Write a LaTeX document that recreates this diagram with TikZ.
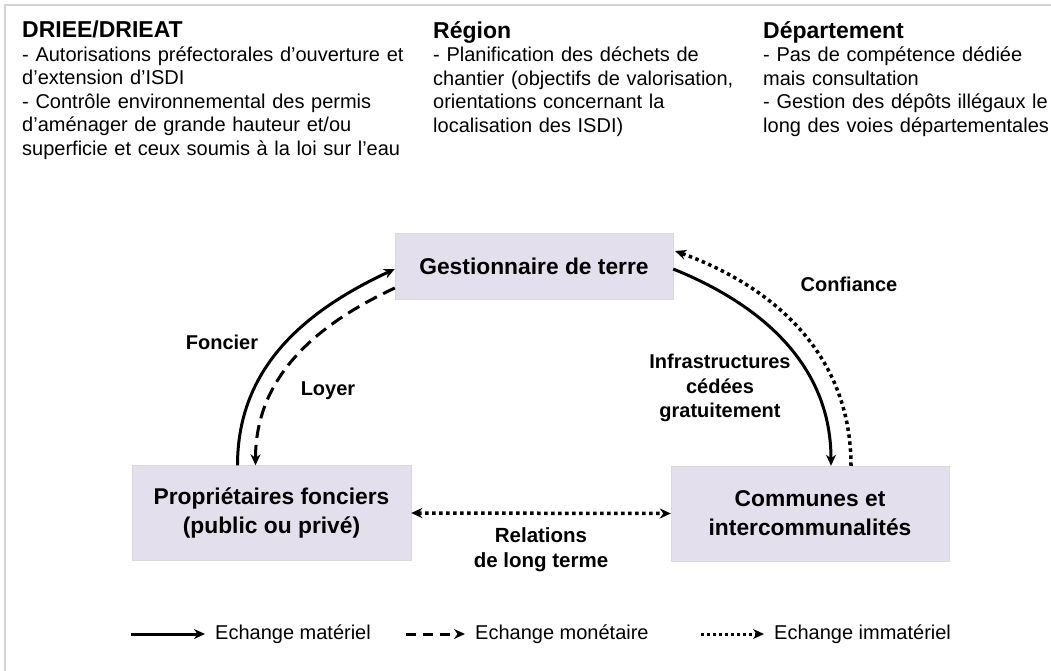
\documentclass[tikz,border=0pt]{standalone}
\usepackage{fontspec}
\setmainfont{Liberation Sans}
\usetikzlibrary{arrows.meta}
\definecolor{boxfill}{HTML}{E4DFEC}
\definecolor{boxline}{HTML}{D9D9D9}
\definecolor{framegray}{HTML}{D3D3D3}
\newcommand{\coltitle}[1]{{\bfseries\fontsize{23}{23.5}\selectfont #1}}

\begin{document}
\begin{tikzpicture}[x=1pt,y=1pt,
      every node/.style={inner sep=0pt},
      actor/.style={draw=boxline,fill=boxfill,minimum width=279pt,align=center,
        font=\bfseries\fontsize{22.8}{29}\selectfont},
      column/.style={anchor=north west,align=left,text width=#1,
        font=\fontsize{20}{23.5}\selectfont},
      flowlabel/.style={align=center,font=\bfseries\fontsize{20}{24.5}\selectfont},
      legtext/.style={anchor=west,font=\fontsize{20}{24}\selectfont},
      tip/.style={-{Stealth[length=11pt,width=10pt,inset=3.5pt]}},
      bothtips/.style={{Stealth[length=11pt,width=10pt,inset=3.5pt]}-{Stealth[length=11pt,width=10pt,inset=3.5pt]}},
      material/.style={tip,line width=3pt},
      money/.style={tip,line width=3pt,dash pattern=on 13pt off 7pt},
      immaterial/.style={tip,line width=3.5pt,dash pattern=on 3.5pt off 3.5pt}]
    \useasboundingbox (0,0) rectangle (1051,-671);
    \draw[framegray,line width=2pt] (5,-671) -- (5,-5) -- (1051,-5);

    \node[column=400pt] (driee) at (22,-21) {\coltitle{DRIEE/DRIEAT}\\
      - Autorisations préfectorales d’ouverture et\\
      d’extension d’ISDI\\
      - Contrôle environnemental des permis\\
      d’aménager de grande hauteur et/ou\\
      superficie et ceux soumis à la loi sur l’eau};
    \node[column=320pt] (region) at (433,-21) {\coltitle{Région}\\
      - Planification des déchets de\\
      chantier (objectifs de valorisation,\\
      orientations concernant la\\
      localisation des ISDI)};
    \node[column=300pt] (dept) at (763,-21) {\coltitle{Département}\\
      - Pas de compétence dédiée\\
      mais consultation\\
      - Gestion des dépôts illégaux le\\
      long des voies départementales};

    \node[actor,minimum width=278pt,minimum height=66pt] (gest) at (534,-266) {Gestionnaire de terre};
    \node[actor,minimum height=95pt] (prop) at (271.5,-513) {Propriétaires fonciers\\(public ou privé)};
    \node[actor,minimum width=278pt,minimum height=95pt] (comm) at (810,-513.5) {Communes et\\intercommunalités};

    \draw[material] ([xshift=-34pt]prop.north) to[out=90,in=205] ([yshift=-3pt]gest.west);
    \draw[money] ([yshift=-22pt]gest.west) to[out=205,in=90] ([xshift=-16pt]prop.north);
    \draw[material] ([yshift=-3pt]gest.east) to[out=-22,in=90] ([xshift=21pt]comm.north);
    \draw[immaterial] ([xshift=41pt]comm.north) to[out=90,in=-20] ([xshift=2pt,yshift=15pt]gest.east);
    \draw[immaterial,bothtips] (prop.east) -- (comm.west);

    \node[flowlabel] (foncier) at (222,-342) {Foncier};
    \node[flowlabel] (loyer) at (328,-391) {Loyer};
    \node[flowlabel] (confiance) at (849,-284) {Confiance};
    \node[flowlabel] (infra) at (720,-388) {Infrastructures\\cédées\\gratuitement};
    \node[flowlabel,font=\bfseries\fontsize{20.5}{25}\selectfont] (relations) at (541,-550) {Relations\\de long terme};

    \node[legtext] (leg1) at (215,-634) {Echange matériel};
    \node[legtext] (leg2) at (475,-634) {Echange monétaire};
    \node[legtext] (leg3) at (774,-634) {Echange immatériel};
    \coordinate (leg1s) at (131,-634);
    \coordinate (leg2s) at (406,-634);
    \coordinate (leg3s) at (701,-634);
    \draw[material,shorten >=10pt] (leg1s) -- (leg1.west);
    \draw[money,dash pattern=on 10pt off 7pt,shorten >=10pt] (leg2s) -- (leg2.west);
    \draw[immaterial,line width=3pt,dash pattern=on 3pt off 3pt,shorten >=10pt] (leg3s) -- (leg3.west);
  \end{tikzpicture}
\end{document}
